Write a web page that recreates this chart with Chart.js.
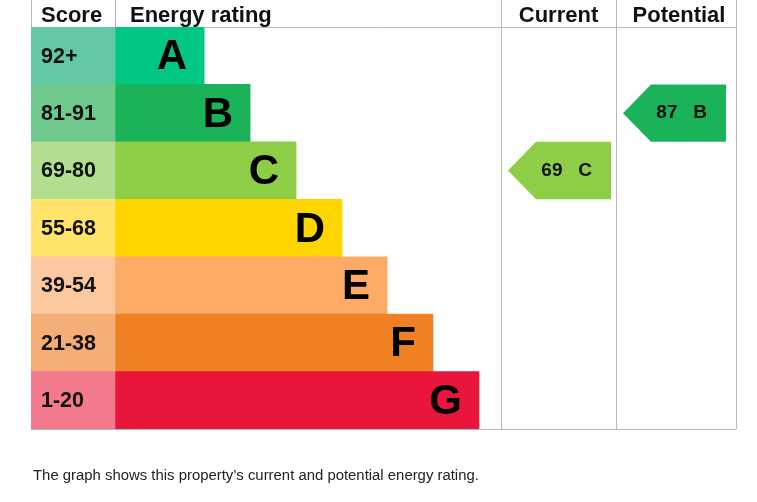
<!DOCTYPE html>
<html lang="en">
  <head>
    <meta charset="UTF-8" />
    <title>Energy rating</title>
    <style>
      body { margin: 0; background: #fff; }
      #wrap { position: relative; width: 757px; height: 502px; }
      #caption {
        position: absolute; left: 33px; top: 467px; margin: 0;
        font: 14.9px "Liberation Sans", Arial, sans-serif; color: #222;
      }
    </style>
  </head>
  <body>
    <div id="wrap">
      <canvas id="epc" width="757" height="502"></canvas>
      <p id="caption"></p>
    </div>
  </body>
  <script src="https://cdn.jsdelivr.net/npm/chart.js"></script>
  <script>
    // Bands, score ranges and the two ratings shown on the certificate
    const bands = ["A", "B", "C", "D", "E", "F", "G"];
    const scoreRanges = ["92+", "81-91", "69-80", "55-68", "39-54", "21-38", "1-20"];
    const bandMin = [92, 81, 69, 55, 39, 21, 1];
    const barLengths = [1.96, 2.97, 3.98, 4.99, 5.98, 6.99, 8];
    const bandColors = ["#00c781", "#1bb35a", "#8dce46", "#ffd500", "#fcaa65", "#ef8023", "#e9153b"];
    const scoreColors = ["#63c8a3", "#6fc98c", "#b4de8f", "#ffe36a", "#fcc8a0", "#f4ad74", "#f27a8c"];
    const currentScore = 69;
    const potentialScore = 87;
    const headers = ["Score", "Energy rating", "Current", "Potential"];
    const captionText = "The graph shows this property\u2019s current and potential energy rating.";

    // column edges in x-scale units
    const SCORE_END = 1.846;
    const RATING_END = 10.33;
    const CURRENT_END = 12.857;
    const X_MAX = 15.495;

    const FONT = '"Liberation Sans", Arial, sans-serif';
    const LINE = "#b8b8b8";

    document.getElementById("caption").textContent = captionText;

    function bandIndex(score) {
      return bandMin.findIndex((m) => score >= m);
    }

    function drawArrow(ctx, x0, yTop, yBot, color, label) {
      let w = 103, tip = 28, yMid = (yTop + yBot) / 2;
      ctx.beginPath();
      ctx.moveTo(x0, yMid);
      ctx.lineTo(x0 + tip, yTop);
      ctx.lineTo(x0 + w, yTop);
      ctx.lineTo(x0 + w, yBot);
      ctx.lineTo(x0 + tip, yBot);
      ctx.closePath();
      ctx.fillStyle = color;
      ctx.fill();
      ctx.fillStyle = "#111";
      ctx.font = "bold 19px " + FONT;
      ctx.textAlign = "center";
      ctx.textBaseline = "middle";
      ctx.fillText(label, x0 + w * 0.57, yMid);
    }

    const epcPlugin = {
      id: "epc",
      beforeDatasetsDraw(chart) {
        let ctx = chart.ctx, a = chart.chartArea, x = chart.scales.x;
        ctx.save();
        ctx.strokeStyle = LINE;
        ctx.lineWidth = 1;
        ctx.beginPath();
        // header underline and bottom border
        ctx.moveTo(a.left, a.top + 0.5);
        ctx.lineTo(a.right, a.top + 0.5);
        ctx.moveTo(a.left, a.bottom + 0.5);
        ctx.lineTo(a.right, a.bottom + 0.5);
        // header-only dividers
        [0, SCORE_END].forEach((v) => {
          let px = Math.round(x.getPixelForValue(v)) + 0.5;
          ctx.moveTo(px, 0);
          ctx.lineTo(px, a.top);
        });
        // full height dividers
        [RATING_END, CURRENT_END, X_MAX].forEach((v) => {
          let px = Math.round(x.getPixelForValue(v)) + 0.5;
          ctx.moveTo(px, 0);
          ctx.lineTo(px, a.bottom);
        });
        ctx.stroke();
        ctx.restore();
      },
      afterDatasetsDraw(chart) {
        let ctx = chart.ctx, a = chart.chartArea;
        let x = chart.scales.x, y = chart.scales.y;
        let rowH = (a.bottom - a.top) / bands.length;
        ctx.save();

        // headers
        ctx.fillStyle = "#111";
        ctx.font = "bold 22px " + FONT;
        ctx.textBaseline = "alphabetic";
        ctx.textAlign = "left";
        ctx.fillText(headers[0], x.getPixelForValue(0) + 10, a.top - 5);
        ctx.fillText(headers[1], x.getPixelForValue(SCORE_END) + 15, a.top - 5);
        ctx.textAlign = "center";
        ctx.fillText(headers[2], (x.getPixelForValue(RATING_END) + x.getPixelForValue(CURRENT_END)) / 2, a.top - 5);
        ctx.fillText(headers[3], (x.getPixelForValue(CURRENT_END) + x.getPixelForValue(X_MAX)) / 2 + 3, a.top - 5);

        // score ranges and band letters
        bands.forEach((b, i) => {
          let yc = y.getPixelForValue(i);
          ctx.textBaseline = "middle";
          ctx.textAlign = "left";
          ctx.font = "bold 21.5px " + FONT;
          ctx.fillStyle = "#111";
          ctx.fillText(scoreRanges[i], x.getPixelForValue(0) + 10, yc + 1);
          ctx.textAlign = "right";
          ctx.font = "bold 42px " + FONT;
          ctx.fillStyle = "#000";
          ctx.fillText(b, x.getPixelForValue(SCORE_END + barLengths[i]) - 17, yc + 2);
        });

        // current and potential arrows
        [
          [currentScore, RATING_END],
          [potentialScore, CURRENT_END],
        ].forEach(([score, colStart]) => {
          let i = bandIndex(score);
          let yc = y.getPixelForValue(i);
          drawArrow(
            ctx,
            x.getPixelForValue(colStart) + 7,
            yc - rowH / 2,
            yc + rowH / 2,
            bandColors[i],
            score + "   " + bands[i]
          );
        });
        ctx.restore();
      },
    };

    var ctx = document.getElementById("epc").getContext("2d");
    var chart = new Chart(ctx, {
      type: "bar",
      data: {
        labels: bands,
        datasets: [
          {
            label: "Score",
            data: bands.map(() => [0, SCORE_END]),
            backgroundColor: scoreColors,
            grouped: false,
          },
          {
            label: "Energy rating",
            data: barLengths.map((len) => [SCORE_END, SCORE_END + len]),
            backgroundColor: bandColors,
            grouped: false,
          },
        ],
      },
      options: {
        indexAxis: "y",
        responsive: false,
        animation: false,
        barPercentage: 1,
        categoryPercentage: 1,
        borderSkipped: false,
        layout: { padding: { left: 31, right: 21, top: 27, bottom: 73 } },
        scales: {
          x: { type: "linear", min: 0, max: X_MAX, display: false },
          y: { display: false },
        },
        plugins: {
          legend: { display: false },
          tooltip: { enabled: false },
          title: { display: false },
        },
      },
      plugins: [epcPlugin],
    });
  </script>
</html>
